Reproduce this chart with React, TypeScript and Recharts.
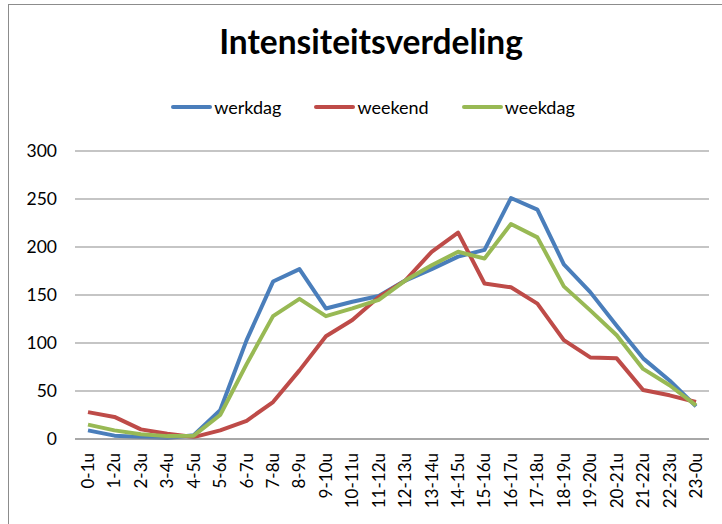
import { LineChart, Line, XAxis, YAxis, CartesianGrid } from "recharts";

// hour blocks on the x axis
const hours = [
  "0-1u", "1-2u", "2-3u", "3-4u", "4-5u", "5-6u", "6-7u", "7-8u", "8-9u", "9-10u", "10-11u", "11-12u",
  "12-13u", "13-14u", "14-15u", "15-16u", "16-17u", "17-18u", "18-19u", "19-20u", "20-21u", "21-22u", "22-23u", "23-0u",
];

const werkdag = [9, 3.5, 2, 1, 4, 30, 103, 164, 177, 136, 143, 149, 165, 177, 190, 197, 251, 239, 182, 153, 118, 84, 61, 34];
const weekend = [28, 23, 10, 5.5, 2, 9, 19, 38.5, 71.5, 107, 124, 148, 165, 195, 215, 162, 158, 141, 103, 85, 84, 51, 45.5, 38.5];
const weekdag = [15, 9, 5, 3, 3.5, 25, 78, 128, 146, 128, 136, 145, 165, 181, 195, 188, 224, 210, 159, 134, 108, 73, 56, 35];

const yTicks = [0, 50, 100, 150, 200, 250, 300];

const seriesNames = ["werkdag", "weekend", "weekdag"];
const COLORS = ["#4A7EBB", "#BE4B48", "#98B954"];

const FONT = "Lato, 'Open Sans', sans-serif";

const data = hours.map((hour, i) => ({
  hour,
  werkdag: werkdag[i],
  weekend: weekend[i],
  weekdag: weekdag[i],
}));

function HourTick({ x, y, payload }: any) {
  const ty = y + 6;
  return (
    <text
      x={x}
      y={ty}
      transform={`rotate(-90 ${x} ${ty})`}
      textAnchor="end"
      dy="0.35em"
      fontSize={17}
      fontFamily={FONT}
      fill="#000"
    >
      {payload.value}
    </text>
  );
}

export default function App() {
  return (
    <div style={{ position: "fixed", left: 0, top: 0, width: 722, height: 524, overflow: "hidden", background: "#fff" }}>
      {/* chart border, runs off the right/bottom edge */}
      <div style={{ position: "absolute", left: 8, top: 4, width: 800, height: 600, border: "1px solid #8c8c8c" }} />

      <div
        style={{
          position: "absolute", left: 0, top: 21, width: 742, textAlign: "center",
          fontFamily: FONT, fontWeight: 700, fontSize: 33.5, color: "#000",
        }}
      >
        Intensiteitsverdeling
      </div>

      <div
        style={{
          position: "absolute", left: 0, top: 96, width: 746, display: "flex", justifyContent: "center",
          gap: 33, fontFamily: FONT, fontSize: 18, color: "#000",
        }}
      >
        {seriesNames.map((name, i) => (
          <div key={name} style={{ display: "flex", alignItems: "center" }}>
            <span style={{ display: "inline-block", width: 41, height: 4, borderRadius: 2, background: COLORS[i], marginRight: 2 }} />
            <span>{name}</span>
          </div>
        ))}
      </div>

      <div style={{ position: "absolute", left: 0, top: 0 }}>
        <LineChart width={722} height={524} data={data} margin={{ top: 151, right: 13, bottom: 0, left: 0 }}>
          <CartesianGrid vertical={false} stroke="#8c8c8c" strokeWidth={1.2} />
          <XAxis
            dataKey="hour"
            interval={0}
            height={85}
            tickLine={false}
            axisLine={{ stroke: "#8c8c8c", strokeWidth: 1.2 }}
            padding={{ left: 13, right: 13 }}
            tick={<HourTick />}
          />
          <YAxis
            width={75}
            domain={[0, 300]}
            ticks={yTicks}
            tickLine={false}
            axisLine={false}
            tickMargin={12}
            tick={{ fontSize: 17.5, fontFamily: FONT, fill: "#000" }}
          />
          {seriesNames.map((name, i) => (
            <Line
              key={name}
              type="linear"
              dataKey={name}
              stroke={COLORS[i]}
              strokeWidth={4}
              strokeLinejoin="round"
              dot={false}
              activeDot={false}
              isAnimationActive={false}
            />
          ))}
        </LineChart>
      </div>
    </div>
  );
}
